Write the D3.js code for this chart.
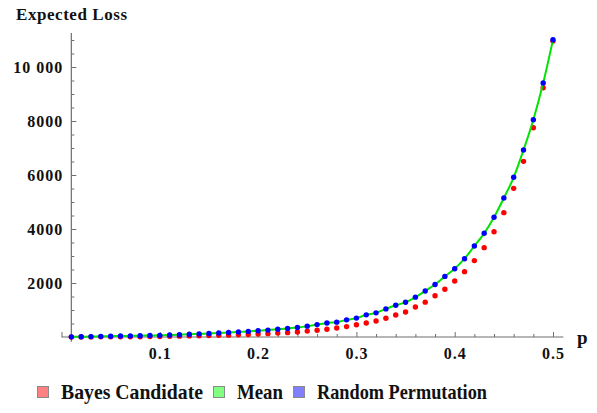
<!DOCTYPE html>
<html>
<head>
<meta charset="utf-8">
<script src="https://cdn.jsdelivr.net/npm/d3@7"></script>
<style>
  body { margin: 0; background: #fff; }
  svg { display: block; }
  text { font-family: "Liberation Serif", "Times New Roman", serif; font-weight: bold; fill: #111; }
</style>
</head>
<body>
<svg id="chart" width="597" height="413"></svg>
<script>
// p values 0.01 .. 0.50
const pValues = [0.01,0.02,0.03,0.04,0.05,0.06,0.07,0.08,0.09,0.10,
  0.11,0.12,0.13,0.14,0.15,0.16,0.17,0.18,0.19,0.20,
  0.21,0.22,0.23,0.24,0.25,0.26,0.27,0.28,0.29,0.30,
  0.31,0.32,0.33,0.34,0.35,0.36,0.37,0.38,0.39,0.40,
  0.41,0.42,0.43,0.44,0.45,0.46,0.47,0.48,0.49,0.50];

const bayesLoss = [2,3,4,5,6,8,10,12,15,20,
  25,32,40,48,55,62,68,80,95,110,
  125,145,162,185,218,250,287,335,385,452,
  520,590,693,815,928,1110,1290,1528,1766,2075,
  2420,2830,3310,3900,4605,5506,6506,7752,9233,10960];

const randomLoss = [5,10,15,25,30,35,40,48,55,62,
  72,85,100,117,132,148,168,185,208,232,
  255,285,315,350,402,460,520,550,635,700,
  820,895,1040,1175,1285,1475,1706,1945,2245,2530,
  2900,3370,3840,4433,5148,5915,6926,8048,9407,11010];

// mean curve follows the random permutation points
const meanLoss = randomLoss;

const legendLabels = ["Bayes Candidate", "Mean", "Random Permutation"];
const legendColors = ["#ff8080", "#80ff80", "#8080ff"];

const xMajor = [0, 0.1, 0.2, 0.3, 0.4, 0.5];
const yMajor = [0, 2000, 4000, 6000, 8000, 10000];

const svg = d3.select("#chart");

const x = d3.scaleLinear().domain([0, 0.5]).range([61.5, 553]);
const y = d3.scaleLinear().domain([0, 10000]).range([337, 67]);

const axisColor = "#6e6e6e";

// axes lines
svg.append("line")
  .attr("x1", x(0)).attr("x2", x(0.5105))
  .attr("y1", y(0)).attr("y2", y(0))
  .attr("stroke", axisColor).attr("stroke-width", 1.2);
svg.append("line")
  .attr("x1", x(0.01)).attr("x2", x(0.01))
  .attr("y1", y(-180)).attr("y2", y(11260))
  .attr("stroke", axisColor).attr("stroke-width", 1.2);

// x axis ticks (pointing up)
const xMinor = d3.range(0, 0.51, 0.02).filter(v => xMajor.every(m => Math.abs(m - v) > 1e-6));
const xAxis = d3.axisBottom(x).tickValues(xMajor).tickSize(-5).tickPadding(11)
  .tickFormat(d => d === 0 ? "" : d3.format(".1f")(d));
const gx = svg.append("g").attr("transform", `translate(0,${y(0)})`).call(xAxis);
gx.select(".domain").remove();
gx.selectAll(".tick line").attr("stroke", axisColor);
gx.selectAll(".tick text").attr("font-size", 16).attr("letter-spacing", "1px")
  .attr("font-family", null).attr("fill", "#111");
const gxm = svg.append("g").attr("transform", `translate(0,${y(0)})`)
  .call(d3.axisBottom(x).tickValues(xMinor).tickSize(-3).tickFormat(""));
gxm.select(".domain").remove();
gxm.selectAll(".tick line").attr("stroke", axisColor);

// y axis ticks (pointing right)
const yMinor = d3.range(500, 11001, 500).filter(v => v % 2000 !== 0);
const yAxis = d3.axisLeft(y).tickValues(yMajor.filter(v => v > 0)).tickSize(-5).tickPadding(8)
  .tickFormat(d => d >= 10000 ? d3.format(",")(d).replace(",", " ") : String(d));
const gy = svg.append("g").attr("transform", `translate(${x(0.01)},0)`).call(yAxis);
gy.select(".domain").remove();
gy.selectAll(".tick line").attr("stroke", axisColor);
gy.selectAll(".tick text").attr("font-size", 16).attr("letter-spacing", "1px")
  .attr("font-family", null).attr("fill", "#111");
const gym = svg.append("g").attr("transform", `translate(${x(0.01)},0)`)
  .call(d3.axisLeft(y).tickValues(yMinor).tickSize(-3).tickFormat(""));
gym.select(".domain").remove();
gym.selectAll(".tick line").attr("stroke", axisColor);

// axis labels
svg.append("text").attr("x", 16).attr("y", 20).attr("font-size", 17)
  .attr("textLength", 111).attr("lengthAdjust", "spacing")
  .text("Expected  Loss");
svg.append("text").attr("x", 577).attr("y", 344).attr("font-size", 19).text("p");

// red points
svg.append("g").selectAll("circle").data(pValues).join("circle")
  .attr("cx", (d) => x(d)).attr("cy", (d, i) => y(bayesLoss[i]))
  .attr("r", 2.7).attr("fill", "#ff0000");

// mean line
const line = d3.line().x((d) => x(d)).y((d, i) => y(meanLoss[i])).curve(d3.curveMonotoneX);
svg.append("path").datum(pValues).attr("d", line)
  .attr("fill", "none").attr("stroke", "#00e400").attr("stroke-width", 2);

// blue points
svg.append("g").selectAll("circle").data(pValues).join("circle")
  .attr("cx", (d) => x(d)).attr("cy", (d, i) => y(randomLoss[i]))
  .attr("r", 2.7).attr("fill", "#0000ff");

// legend
const legendX = [37, 213, 293];
const legendW = [142, 46, 170];
const leg = svg.append("g");
legendLabels.forEach((lab, i) => {
  leg.append("rect").attr("x", legendX[i] + 0.5).attr("y", 386.5).attr("width", 11).attr("height", 11)
    .attr("fill", legendColors[i]).attr("stroke", "#8a8a8a").attr("stroke-width", 1);
  leg.append("text").attr("x", legendX[i] + 24).attr("y", 399).attr("font-size", 21)
    .attr("textLength", legendW[i]).attr("lengthAdjust", "spacingAndGlyphs").text(lab);
});
</script>
</body>
</html>
